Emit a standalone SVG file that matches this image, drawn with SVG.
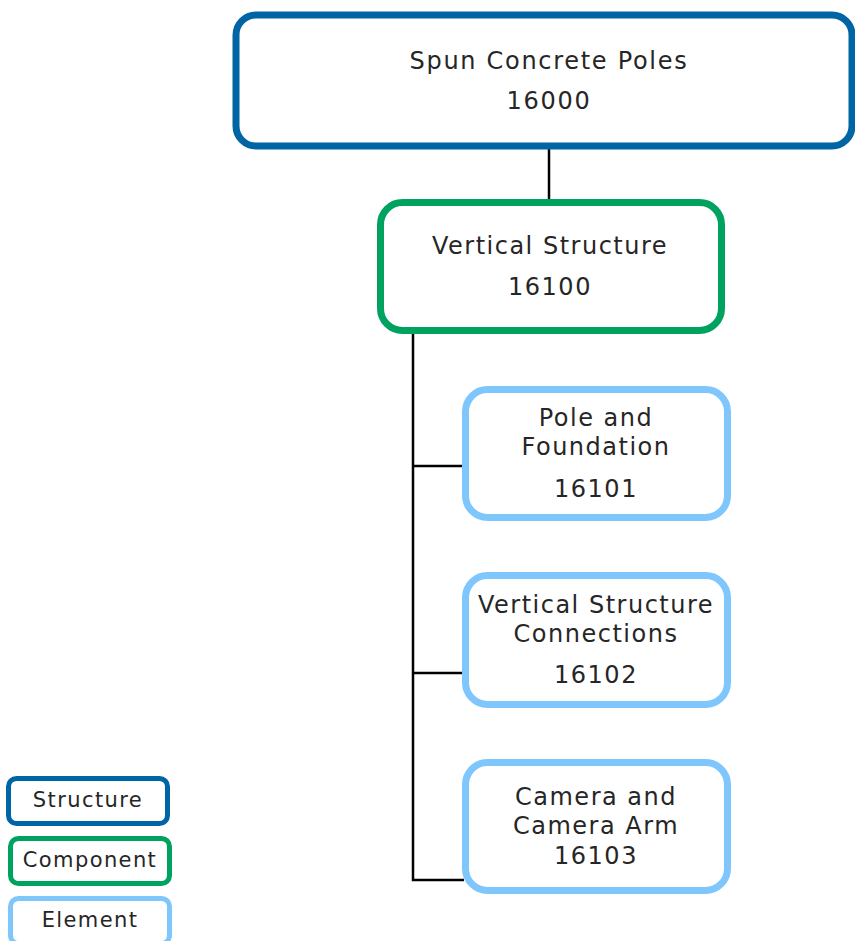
<svg xmlns="http://www.w3.org/2000/svg" width="855" height="941" viewBox="0 0 855 941">
  <style>
    .box { fill: #ffffff; stroke-width: 7; }
    .structure { stroke: #0065a4; }
    .component { stroke: #00a25f; }
    .element { stroke: #7fc6fd; }
    .lbl { font-family: "DejaVu Sans", "Noto Sans", sans-serif; fill: #262626; text-anchor: middle; }
    .big { font-size: 24px; letter-spacing: 1.7px; }
    .mid { font-size: 24px; letter-spacing: 1.5px; }
    .leg { font-size: 21px; letter-spacing: 1.4px; }
    .wire { fill: none; stroke: #000000; stroke-width: 2.5; }
  </style>

  <g id="connectors">
    <line class="wire" x1="549" y1="148" x2="549" y2="200"/>
    <polyline class="wire" points="413,334 413,880 464,880"/>
    <line class="wire" x1="413" y1="466" x2="464" y2="466"/>
    <line class="wire" x1="413" y1="673" x2="464" y2="673"/>
  </g>

  <g id="node-16000">
    <rect class="box structure" x="236" y="15" width="616" height="131" rx="20"/>
    <text class="lbl big" x="549" y="69">Spun Concrete Poles</text>
    <text class="lbl big" x="549" y="109">16000</text>
  </g>

  <g id="node-16100">
    <rect class="box component" x="380.5" y="202.5" width="341" height="128" rx="22"/>
    <text class="lbl mid" x="550" y="254">Vertical Structure</text>
    <text class="lbl mid" x="550" y="295">16100</text>
  </g>

  <g id="node-16101">
    <rect class="box element" x="465.5" y="389.5" width="262" height="128" rx="22"/>
    <text class="lbl mid" x="596" y="426">Pole and</text>
    <text class="lbl mid" x="596" y="455">Foundation</text>
    <text class="lbl mid" x="596" y="497">16101</text>
  </g>

  <g id="node-16102">
    <rect class="box element" x="465.5" y="575.5" width="262" height="129" rx="22"/>
    <text class="lbl mid" x="596" y="613">Vertical Structure</text>
    <text class="lbl mid" x="596" y="642">Connections</text>
    <text class="lbl mid" x="596" y="683">16102</text>
  </g>

  <g id="node-16103">
    <rect class="box element" x="465.5" y="762.5" width="262" height="128" rx="22"/>
    <text class="lbl mid" x="596" y="805">Camera and</text>
    <text class="lbl mid" x="596" y="834">Camera Arm</text>
    <text class="lbl mid" x="596" y="864">16103</text>
  </g>

  <g id="legend">
    <g id="legend-structure">
      <rect class="box structure" x="8.5" y="778.5" width="159" height="45" rx="8" style="stroke-width:5"/>
      <text class="lbl leg" x="88" y="807">Structure</text>
    </g>
    <g id="legend-component">
      <rect class="box component" x="10.5" y="838.5" width="159" height="45" rx="8" style="stroke-width:5"/>
      <text class="lbl leg" x="90" y="867">Component</text>
    </g>
    <g id="legend-element">
      <rect class="box element" x="10.5" y="898.5" width="159" height="45" rx="8" style="stroke-width:5"/>
      <text class="lbl leg" x="90" y="927">Element</text>
    </g>
  </g>
</svg>
